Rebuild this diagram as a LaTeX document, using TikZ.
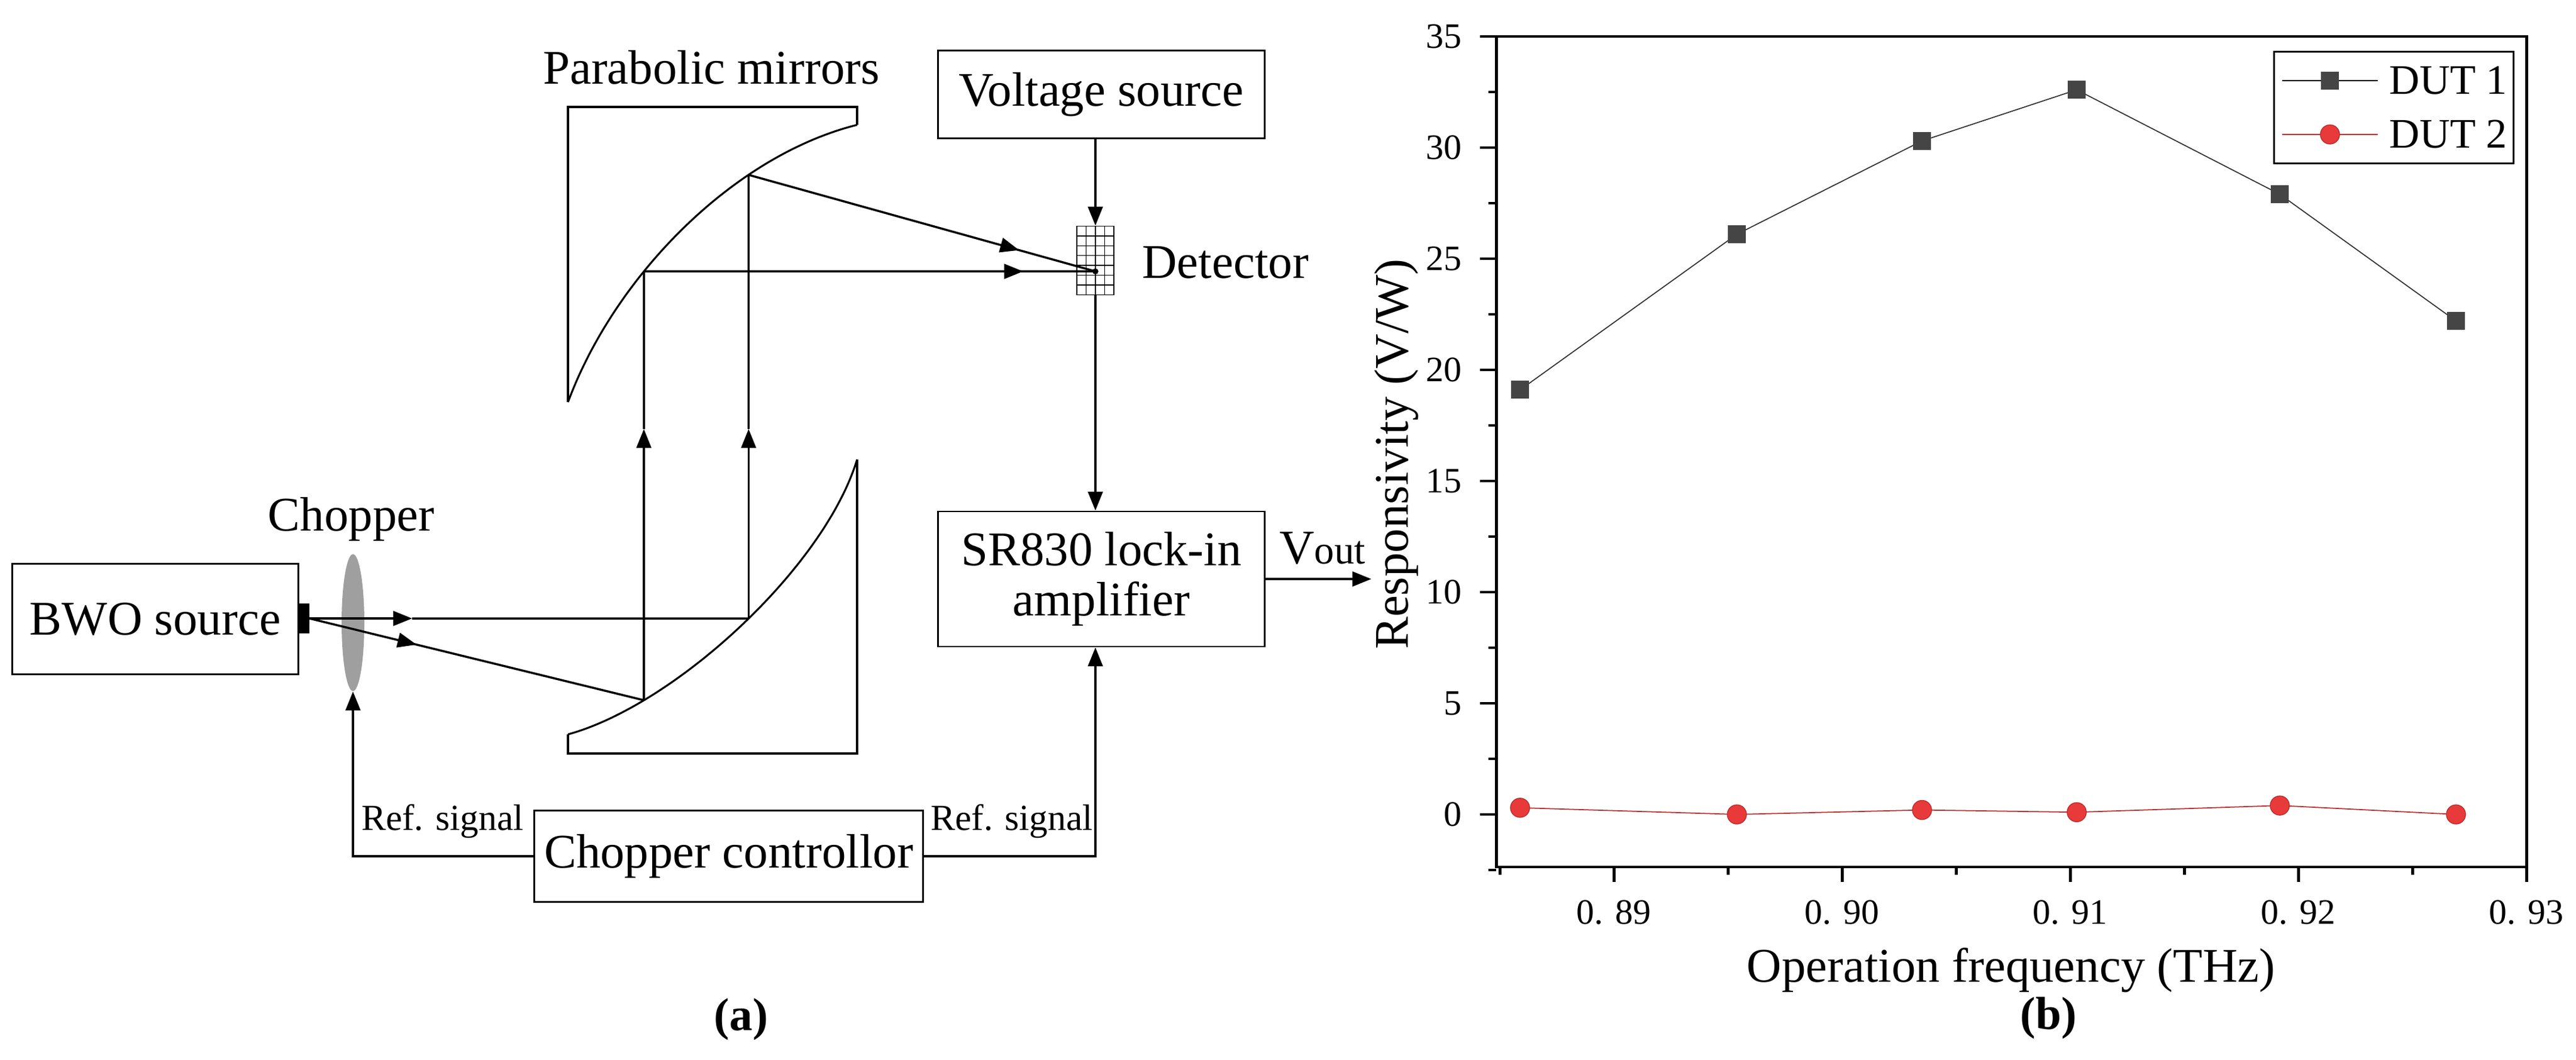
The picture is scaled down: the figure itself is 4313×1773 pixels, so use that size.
\documentclass[tikz,border=0pt]{standalone}
\usepackage{fontspec}
\setmainfont{Liberation Serif}
\usetikzlibrary{arrows.meta,shapes.geometric,intersections,calc}
\definecolor{dgray}{HTML}{454545}
\definecolor{rred}{HTML}{E83A3A}
\begin{document}
\begin{tikzpicture}[x=0.01cm,y=-0.01cm,
  box/.style={draw,line width=0.8pt,inner sep=0,minimum width=#1},
  big/.style={font=\fontsize{23}{26}\selectfont},
  small/.style={font=\fontsize{17.5}{20}\selectfont},
  tick/.style={font=\fontsize{17}{20}\selectfont},
  ln/.style={line width=1pt},
  arr/.style={ln,-{Triangle[length=9pt,width=7pt]}},
  ax/.style={line width=1.4pt}]
\useasboundingbox (0,0) rectangle (4313,1773);
% ---------- panel (a) ----------
\node[box=4.78cm,minimum height=1.85cm,big] (bwo) at (260,1036) {BWO source};
\node[box=5.46cm,minimum height=1.47cm,big] (volt) at (1844,158) {Voltage source};
\node[box=5.46cm,minimum height=2.26cm,big,align=center] (sr) at (1844,969) {SR830 lock-in\\[-2pt]amplifier};
\node[box=6.5cm,minimum height=1.53cm,big] (cc) at (1220,1433) {Chopper controllor};
\node[fill=black,minimum width=0.19cm,minimum height=0.5cm,inner sep=0] (em) at (508,1035) {};
\node[ellipse,fill=gray!75,minimum width=0.38cm,minimum height=2.29cm,inner sep=0] (ch) at (591,1042) {};
\node[big] (chl) at (588,869) {Chopper};
\node[big] (pml) at (1191,113) {Parabolic mirrors};
\node[big,anchor=west] (detl) at (1900,439) {Detector};
\node[small] (r1) at (741,1374) {Ref. signal};
\node[small] (r2) at (1694,1374) {Ref. signal};
\node[big,anchor=west] (vout) at (2130,918) {V\fontsize{19}{20}\selectfont out};
\node[font=\fontsize{22}{24}\selectfont\bfseries] (la) at (1241,1706) {(a)};
% mirrors
\draw[line width=0.9pt] (951,673) -- (951,179) -- (1435,179) -- (1435,209);
\draw[line width=0.9pt,name path=up] (1435,209) .. controls (1230,260) and (1030,460) .. (951,673);
\draw[line width=0.9pt] (951,1229) -- (951,1261) -- (1435,1261) -- (1435,769);
\draw[line width=0.9pt,name path=lo] (1435,769) .. controls (1380,950) and (1130,1180) .. (951,1229);
\path[name path=h1] (1000,1035) -- (1500,1035);
\path[name path=v2] (1078,100) -- (1078,1300);
\path[name intersections={of=lo and h1,by=m1}];
\path[name intersections={of=lo and v2,by=m2}];
\path[name intersections={of=up and v2,by=u2}];
\path[name path=v1] (m1) -- ++(0,-1000);
\path[name intersections={of=up and v1,by=u1}];
\coordinate (ya) at (0,718);
% detector
\node[draw,line width=0.5pt,minimum width=0.62cm,minimum height=1.15cm,inner sep=0] (det) at (1834,436) {};
\foreach \i in {1,2,3}{\draw[line width=0.4pt] ({1803+\i*15.5},378.5) -- ({1803+\i*15.5},493.5);}
\foreach \j in {1,...,6}{\draw[line width=0.4pt] (1803,{378.5+\j*16.4}) -- (1865,{378.5+\j*16.4});}
\coordinate (dc) at (u2 -| det.center);
\fill (dc) circle (0.05cm);
% beams
\draw[arr] (em.east) -- (690,1035); \draw[ln] (690,1035) -- (m1);
\draw[arr] (em.east) -- ($(em.east)!0.32!(m2)$); \draw[ln] ($(em.east)!0.3!(m2)$) -- (m2);
\draw[arr] (m1) -- (m1 |- ya); \draw[ln] (m1 |- ya) -- (u1);
\draw[arr] (m2) -- (m2 |- ya); \draw[ln] (m2 |- ya) -- (u2);
\draw[arr] (u1) -- ($(u1)!0.78!(dc)$); \draw[ln] ($(u1)!0.76!(dc)$) -- (dc);
\draw[arr] (u2) -- ($(u2)!0.84!(dc)$); \draw[ln] ($(u2)!0.82!(dc)$) -- (dc);
% signals
\draw[arr] (volt.south -| det.north) -- (det.north);
\draw[arr] (det.south) -- (det.south |- sr.north);
\draw[arr] (sr.east) -- (2296,969);
\draw[arr] (cc.west) -| (ch.south);
\draw[arr] (cc.east) -| (det.south |- sr.south);
% ---------- panel (b) ----------
\def\Y#1{{1363-37.2*#1}}
\draw[ax] (2478,61) -- (4230,61) -- (4230,1451) -- (2505,1451) -- (2505,61);
\foreach \v in {0,5,...,35}{
  \draw[ax] (2478,\Y{\v}) -- (2505,\Y{\v});
  \node[tick,anchor=east] (yt\v) at (2460,\Y{\v}) {\v};}
\foreach \v in {-2.5,2.5,7.5,...,32.5}{\draw[ax] (2492,\Y{\v}) -- (2505,\Y{\v});}
\foreach \x/\t in {2702/89,3084/90,3466/91,3848/92,4230/93}{
  \draw[ax] (\x,1451) -- (\x,1476);
  \node[tick] (xt\t) at (\x,1527) {0. \t};}
\foreach \x in {2511,2893,3275,3657,4039}{\draw[ax] (\x,1451) -- (\x,1464);}
\node[big] (xl) at (3367,1624) {Operation frequency (THz)};
\node[big,rotate=90] (yl) at (2338,760) {Responsivity (V/W)};
\node[font=\fontsize{22}{24}\selectfont\bfseries] (lb) at (3430,1704) {(b)};
\draw[line width=0.5pt,black!80] plot coordinates {(2545,\Y{19.1}) (2908,\Y{26.1}) (3218,\Y{30.3}) (3477,\Y{32.6}) (3817,\Y{27.9}) (4112,\Y{22.2})};
\draw[line width=0.5pt,rred!80!black] plot coordinates {(2545,\Y{0.3}) (2908,\Y{0}) (3218,\Y{0.2}) (3477,\Y{0.1}) (3817,\Y{0.4}) (4112,\Y{0})};
\foreach \x/\v in {2545/19.1,2908/26.1,3218/30.3,3477/32.6,3817/27.9,4112/22.2}{
  \fill[dgray] (\x,\Y{\v}) +(-15,-15) rectangle +(15,15);}
\foreach \x/\v in {2545/0.3,2908/0,3218/0.2,3477/0.1,3817/0.4,4112/0}{
  \filldraw[fill=rred,draw=rred!80!black,line width=0.4pt] (\x,\Y{\v}) circle (0.16cm);}
% legend
\node[draw,line width=1pt,minimum width=4.01cm,minimum height=1.87cm,inner sep=0] (leg) at (4008,180) {};
\draw[line width=0.5pt] (3821,135) -- (3981,135);
\fill[dgray] (3886,120) rectangle (3916,150);
\draw[line width=0.5pt,rred!80!black] (3821,225) -- (3981,225);
\filldraw[fill=rred,draw=rred!80!black,line width=0.4pt] (3901,225) circle (0.16cm);
\node[font=\fontsize{20}{24}\selectfont,anchor=west,inner sep=0] (d1) at (4000,135) {DUT 1};
\node[font=\fontsize{20}{24}\selectfont,anchor=west,inner sep=0] (d2) at (4000,225) {DUT 2};
\end{tikzpicture}
\end{document}
